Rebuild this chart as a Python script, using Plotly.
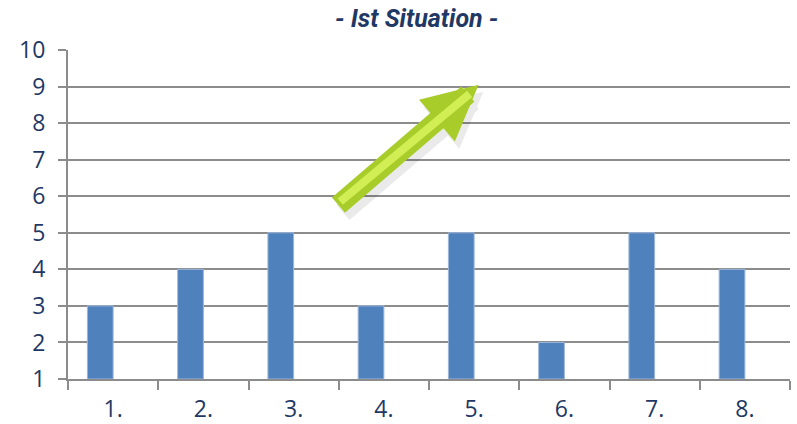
import plotly.graph_objects as go

categories = ["1.", "2.", "3.", "4.", "5.", "6.", "7.", "8."]
values = [3, 4, 5, 3, 5, 2, 5, 4]
empty_series = [None] * 8
y_ticks = list(range(1, 11))

# trend arrow (data coordinates): tail and head
arrow_tail = (2.48, 5.72)
arrow_head = (4.05, 9.05)

BLUE = "#4F81BD"
NAVY = "#1F3864"
GRID = "#8C8C8C"

fig = go.Figure()
fig.add_trace(go.Bar(x=categories, y=[v - 1 for v in values], base=1,
                     marker=dict(color=BLUE, line=dict(color="#9DB7DA", width=1)),
                     hoverinfo="skip"))
fig.add_trace(go.Bar(x=categories, y=empty_series, marker=dict(color=BLUE)))

# shadow
fig.add_annotation(x=arrow_head[0] + 0.05, y=arrow_head[1] - 0.2, ax=arrow_tail[0] + 0.05, ay=arrow_tail[1] - 0.2,
                   xref="x", yref="y", axref="x", ayref="y", text="", showarrow=True,
                   arrowhead=2, arrowsize=0.55, arrowwidth=20, arrowcolor="rgba(0,0,0,0.08)")
fig.add_annotation(x=arrow_head[0], y=arrow_head[1], ax=arrow_tail[0], ay=arrow_tail[1],
                   xref="x", yref="y", axref="x", ayref="y", text="", showarrow=True,
                   arrowhead=2, arrowsize=0.55, arrowwidth=20, arrowcolor="#A8CC2A")
fig.add_annotation(x=arrow_head[0] - 0.1, y=arrow_head[1] - 0.25, ax=arrow_tail[0] + 0.02, ay=arrow_tail[1] + 0.1,
                   xref="x", yref="y", axref="x", ayref="y", text="", showarrow=True,
                   arrowhead=0, arrowwidth=8, arrowcolor="#D2EE55")

fig.update_layout(
    width=797, height=424,
    margin=dict(l=68, r=7, t=50, b=45),
    paper_bgcolor="white", plot_bgcolor="white",
    barmode="group", bargap=0.43, bargroupgap=0,
    showlegend=False,
    title=dict(text="<b><i>- Ist Situation -</i></b>", xref="paper", x=0.483, xanchor="center",
               y=0.958, yanchor="middle",
               font=dict(family="Roboto, sans-serif", size=25, color=NAVY)),
    font=dict(family="Open Sans, sans-serif", color=NAVY),
)
fig.update_xaxes(type="category", showline=True, linecolor=GRID, linewidth=2, showgrid=False,
                 ticks="outside", tickson="boundaries", ticklen=9, tickcolor=GRID, tickwidth=2,
                 tickfont=dict(size=23, color=NAVY), range=[-0.5, 7.5], automargin=False,
                 ticklabelstandoff=8)
fig.update_yaxes(range=[1, 10], tickvals=y_ticks, showline=True, linecolor=GRID, linewidth=2,
                 showgrid=True, gridcolor=GRID, gridwidth=2, ticks="outside", ticklen=8,
                 tickcolor=GRID, tickwidth=2, tickfont=dict(size=23, color=NAVY), zeroline=False,
                 automargin=False, ticklabelstandoff=8)

fig.write_html("out.html", config={"displayModeBar": False},
               post_script="document.body.style.margin='0';")
